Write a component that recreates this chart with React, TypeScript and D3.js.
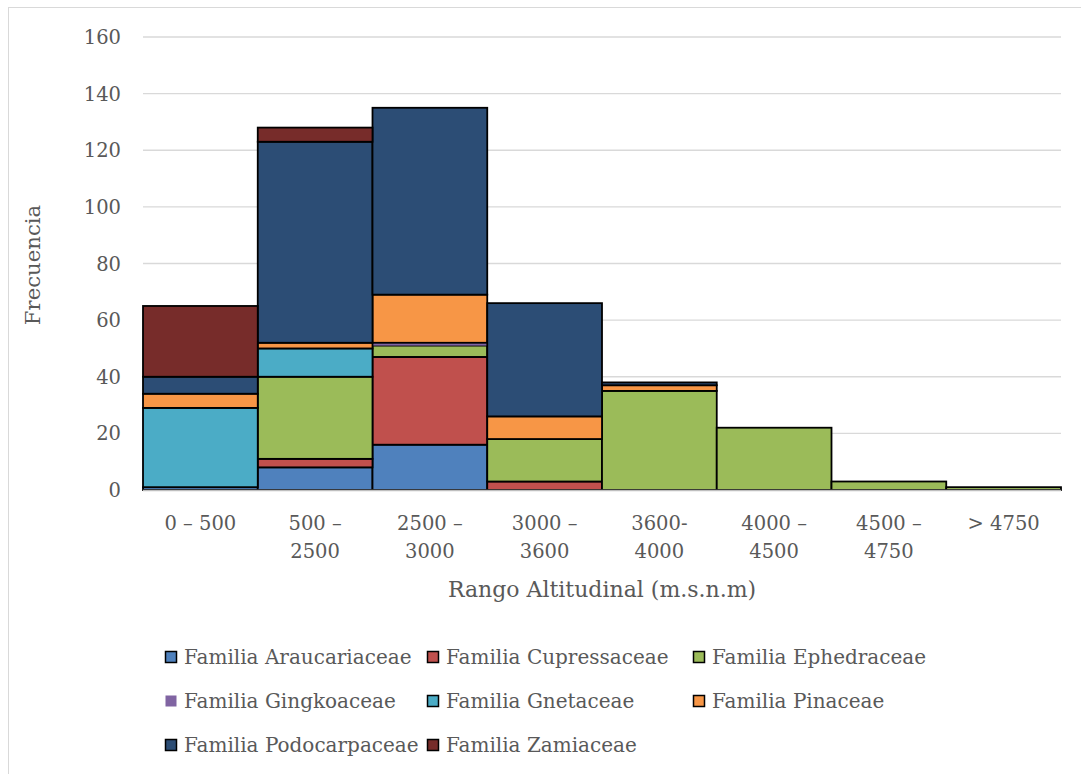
import React from "react";
import * as d3 from "d3";

const categoryLines: string[][] = [
  ["0 – 500"],
  ["500 –", "2500"],
  ["2500 –", "3000"],
  ["3000 –", "3600"],
  ["3600-", "4000"],
  ["4000 –", "4500"],
  ["4500 –", "4750"],
  ["> 4750"],
];
const categories = categoryLines.map((l) => l.join(" "));

const seriesNames = [
  "Familia Araucariaceae",
  "Familia Cupressaceae",
  "Familia Ephedraceae",
  "Familia Gingkoaceae",
  "Familia Gnetaceae",
  "Familia Pinaceae",
  "Familia Podocarpaceae",
  "Familia Zamiaceae",
];

const araucariaceae = [1, 8, 16, 0, 0, 0, 0, 0];
const cupressaceae = [0, 3, 31, 3, 0, 0, 0, 0];
const ephedraceae = [0, 29, 4, 15, 35, 22, 3, 1];
const gingkoaceae = [0, 0, 1, 0, 0, 0, 0, 0];
const gnetaceae = [28, 10, 0, 0, 0, 0, 0, 0];
const pinaceae = [5, 2, 17, 8, 2, 0, 0, 0];
const podocarpaceae = [6, 71, 66, 40, 1, 0, 0, 0];
const zamiaceae = [25, 5, 0, 0, 0, 0, 0, 0];

const seriesValues = [
  araucariaceae,
  cupressaceae,
  ephedraceae,
  gingkoaceae,
  gnetaceae,
  pinaceae,
  podocarpaceae,
  zamiaceae,
];

const colors = [
  "#4F81BD",
  "#C0504D",
  "#9BBB59",
  "#8064A2",
  "#4BACC6",
  "#F79646",
  "#2C4D75",
  "#772C2A",
];
const bordered = [true, true, true, false, true, true, true, true];

const yTicks = [0, 20, 40, 60, 80, 100, 120, 140, 160];

const FONT = "'DejaVu Serif', serif";
const TEXT = "#595959";

export default function App() {
  const W = 1081;
  const H = 774;
  const left = 143;
  const right = 1061;
  const top = 37;
  const bottom = 490;

  const x = d3.scaleBand<string>().domain(categories).range([left, right]).padding(0);
  const y = d3.scaleLinear().domain([0, 160]).range([bottom, top]);

  const rows = categories.map((c, i) => {
    const r: Record<string, number | string> = { cat: c };
    seriesNames.forEach((s, j) => (r[s] = seriesValues[j][i]));
    return r;
  });
  const stack = d3.stack<Record<string, number | string>>().keys(seriesNames);
  const stacked = stack(rows as any);

  const legendCols = [184, 446, 712];
  const legendRows = [657, 701, 745];

  return (
    <svg
      width={W}
      height={H}
      style={{ position: "absolute", left: 0, top: 0, display: "block", background: "#fff" }}
      fontFamily={FONT}
    >
      <rect x={0} y={0} width={W} height={H} fill="#fff" />
      <rect x={8.5} y={7.5} width={1200} height={900} fill="none" stroke="#D9D9D9" strokeWidth={1} />

      {yTicks.map((t) => (
        <g key={t}>
          {t > 0 && (
            <line x1={left} x2={right} y1={y(t)} y2={y(t)} stroke="#D9D9D9" strokeWidth={1.3} />
          )}
          <text x={121} y={y(t) + 7} textAnchor="end" fontSize={19.5} fill={TEXT}>
            {t}
          </text>
        </g>
      ))}

      {stacked.map((layer, j) => (
        <g key={layer.key}>
          {layer.map((d, i) => {
            const v = seriesValues[j][i];
            if (!v) return null;
            const cat = categories[i];
            return (
              <rect
                key={cat}
                x={x(cat)!}
                y={y(d[1])}
                width={x.bandwidth()}
                height={y(d[0]) - y(d[1])}
                fill={colors[j]}
                stroke={bordered[j] ? "#000" : "none"}
                strokeWidth={1.8}
              />
            );
          })}
        </g>
      ))}

      <line x1={left} x2={right} y1={bottom + 0.5} y2={bottom + 0.5} stroke="#BFBFBF" strokeWidth={1.5} />

      {categoryLines.map((lines, i) => (
        <text
          key={i}
          x={x(categories[i])! + x.bandwidth() / 2}
          textAnchor="middle"
          fontSize={19.5}
          fill={TEXT}
        >
          {lines.map((l, k) => (
            <tspan key={k} x={x(categories[i])! + x.bandwidth() / 2} y={530 + k * 28}>
              {l}
            </tspan>
          ))}
        </text>
      ))}

      <text x={602} y={597} textAnchor="middle" fontSize={22} fill={TEXT}>
        Rango Altitudinal (m.s.n.m)
      </text>
      <text
        transform={`translate(40, 265) rotate(-90)`}
        textAnchor="middle"
        fontSize={21.2}
        fill={TEXT}
      >
        Frecuencia
      </text>

      {seriesNames.map((s, j) => {
        const col = j % 3;
        const row = Math.floor(j / 3);
        const tx = legendCols[col];
        const cy = legendRows[row];
        return (
          <g key={s}>
            <rect
              x={tx - 18.5}
              y={cy - 5.5}
              width={11}
              height={11}
              fill={colors[j]}
              stroke={bordered[j] ? "#000" : "none"}
              strokeWidth={1.5}
            />
            <text x={tx} y={cy + 7} fontSize={20} fill={TEXT}>
              {s}
            </text>
          </g>
        );
      })}
    </svg>
  );
}
